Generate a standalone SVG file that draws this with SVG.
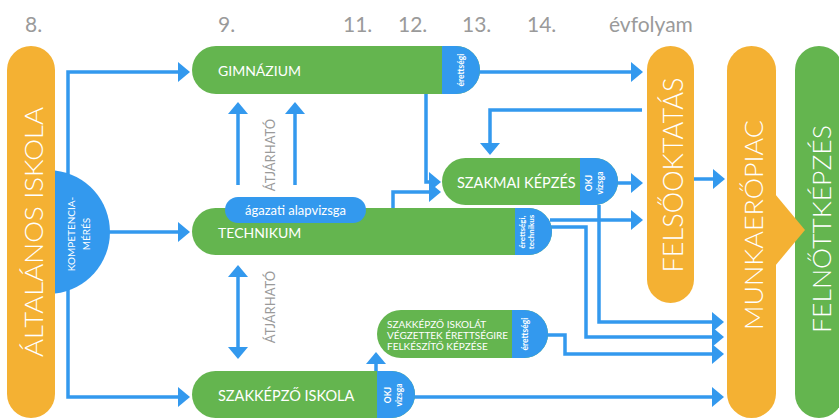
<svg xmlns="http://www.w3.org/2000/svg" width="839" height="419" viewBox="0 0 839 419">
<style>
.g{fill:#64B54F}.o{fill:#F4B133}.b{fill:#3399EE}
.conn{fill:none;stroke:#3399EE;stroke-width:3.5}
.arr{marker-end:url(#ah)}
text{font-family:Lato,"Open Sans","Liberation Sans",sans-serif}
.big{font-size:25px;font-weight:300;fill:#fff;text-anchor:middle}
.lbl{font-size:14px;fill:#fff}
.tiny{font-size:8.5px;font-weight:bold;fill:#fff;text-anchor:middle}
.yr{font-size:21px;fill:#9a9a9a}
.gray{font-size:13px;fill:#9a9a9a;text-anchor:middle}
.small{font-size:10px;fill:#fff}
</style>
<defs>
<marker id="ah" viewBox="0 0 12 20" refX="4" refY="10" markerWidth="12" markerHeight="20" markerUnits="userSpaceOnUse" orient="auto-start-reverse">
<path d="M0,0 L12,10 L0,20 Z" fill="#3399EE"/>
</marker>
</defs>

<g id="years">
<text class="yr" x="25" y="32">8.</text>
<text class="yr" x="218" y="32">9.</text>
<text class="yr" x="343" y="32">11.</text>
<text class="yr" x="398" y="32">12.</text>
<text class="yr" x="462" y="32">13.</text>
<text class="yr" x="527" y="32">14.</text>
<text class="yr" x="609" y="32">évfolyam</text>
</g>

<g id="connectors">
<path class="conn arr" d="M68,232 V72 H182"/>
<path class="conn arr" d="M68,232 V397 H182"/>
<path class="conn arr" d="M108,232 H182"/>
<path class="conn arr" d="M478,72 H635"/>
<path class="conn arr" d="M426,94 V182 H433"/>
<path class="conn arr" d="M393,208 V192 H433"/>
<path class="conn arr" d="M616,183 H635"/>
<path class="conn arr" d="M642,110 H490 V147"/>
<path class="conn arr" d="M694,179 H717"/>
<path class="conn arr" d="M550,220 H635"/>
<path class="conn arr" d="M550,227 H586 V337 H716"/>
<path class="conn arr" d="M599,205 V322 H716"/>
<path class="conn arr" d="M546,335 H565 V354 H716"/>
<path class="conn arr" d="M413,397 H716"/>
<path class="conn arr" d="M376,372 V360"/>
<path class="conn arr" d="M238,185 V110"/>
<path class="conn arr" d="M295,185 V110"/>
<path class="conn arr" d="M238,273 V351" marker-start="url(#ah)"/>
</g>

<g id="atjarhato1"><text class="gray" transform="translate(275,155) rotate(-90)">ÁTJÁRHATÓ</text></g>
<g id="atjarhato2"><text class="gray" transform="translate(275,307) rotate(-90)">ÁTJÁRHATÓ</text></g>

<g id="kompetencia">
<path class="b" d="M55,170.4 A62,62 0 0 1 55,293.6 Z"/>
<text class="tiny" style="font-size:10px;font-weight:normal" transform="translate(75,234) rotate(-90)">KOMPETENCIA-</text>
<text class="tiny" style="font-size:10px;font-weight:normal" transform="translate(90,234) rotate(-90)">MÉRÉS</text>
</g>

<g id="altalanos">
<rect class="o" x="7" y="46" width="48" height="372" rx="24"/>
<text class="big" transform="translate(43,232) rotate(-90)" textLength="250" lengthAdjust="spacingAndGlyphs">ÁLTALÁNOS ISKOLA</text>
</g>

<g id="gimnazium">
<rect class="g" x="192" y="46" width="288" height="48" rx="24"/>
<path class="b" d="M442,46 H456 A24,24 0 0 1 456,94 H442 Z"/>
<text class="lbl" x="218" y="76">GIMNÁZIUM</text>
<text class="tiny" transform="translate(464,70) rotate(-90)">érettségi</text>
</g>

<g id="technikum">
<rect class="g" x="192" y="208" width="360" height="47" rx="23.5"/>
<path class="b" d="M515,208 H528.5 A23.5,23.5 0 0 1 528.5,255 H515 Z"/>
<text class="lbl" x="218" y="238">TECHNIKUM</text>
<text class="tiny" style="font-size:8px" transform="translate(525,232) rotate(-90)">érettségi,</text>
<text class="tiny" style="font-size:8px" transform="translate(534,232) rotate(-90)">technikus</text>
</g>

<g id="agazati">
<rect class="b" x="225" y="197" width="141" height="26" rx="13"/>
<text class="lbl" style="font-size:13px;text-anchor:middle" x="295.5" y="214.5">ágazati alapvizsga</text>
</g>

<g id="szakmai">
<rect class="g" x="442" y="158" width="176" height="47" rx="23.5"/>
<path class="b" d="M580,158 H594.5 A23.5,23.5 0 0 1 594.5,205 H580 Z"/>
<text class="lbl" style="font-size:14.5px" x="457" y="188">SZAKMAI KÉPZÉS</text>
<text class="tiny" transform="translate(592,183) rotate(-90)">OKJ</text>
<text class="tiny" transform="translate(603,183) rotate(-90)">vizsga</text>
</g>

<g id="szakkepzo">
<rect class="g" x="192" y="371" width="223" height="47" rx="23.5"/>
<path class="b" d="M377,371 H391.5 A23.5,23.5 0 0 1 391.5,418 H377 Z"/>
<text class="lbl" style="font-size:14.5px" x="218" y="401">SZAKKÉPZŐ ISKOLA</text>
<text class="tiny" transform="translate(391,395) rotate(-90)">OKJ</text>
<text class="tiny" transform="translate(402,395) rotate(-90)">vizsga</text>
</g>

<g id="erettsegire">
<rect class="g" x="377" y="310" width="171" height="48" rx="24"/>
<path class="b" d="M512,310 H524 A24,24 0 0 1 524,358 H512 Z"/>
<text class="small" x="387" y="328">SZAKKÉPZŐ ISKOLÁT</text>
<text class="small" x="387" y="339">VÉGZETTEK ÉRETTSÉGIRE</text>
<text class="small" x="387" y="350">FELKÉSZÍTŐ KÉPZÉSE</text>
<text class="tiny" transform="translate(528,334) rotate(-90)">érettségi</text>
</g>

<g id="felsooktatas">
<rect class="o" x="647" y="46" width="47" height="257" rx="23.5"/>
<text class="big" style="font-size:27px" transform="translate(683,175) rotate(-90)" textLength="195" lengthAdjust="spacingAndGlyphs">FELSŐOKTATÁS</text>
</g>

<g id="felnottkepzes">
<rect class="g" x="795" y="46" width="48" height="372" rx="24"/>
<text class="big" transform="translate(831,229) rotate(-90)" textLength="208" lengthAdjust="spacingAndGlyphs">FELNŐTTKÉPZÉS</text>
</g>

<g id="munkaeropiac">
<rect class="o" x="727" y="46" width="49" height="372" rx="24.5"/>
<polygon class="o" points="775,194 805,230 775,266"/>
<text class="big" transform="translate(763,225) rotate(-90)" textLength="210" lengthAdjust="spacingAndGlyphs">MUNKAERŐPIAC</text>
</g>
</svg>
